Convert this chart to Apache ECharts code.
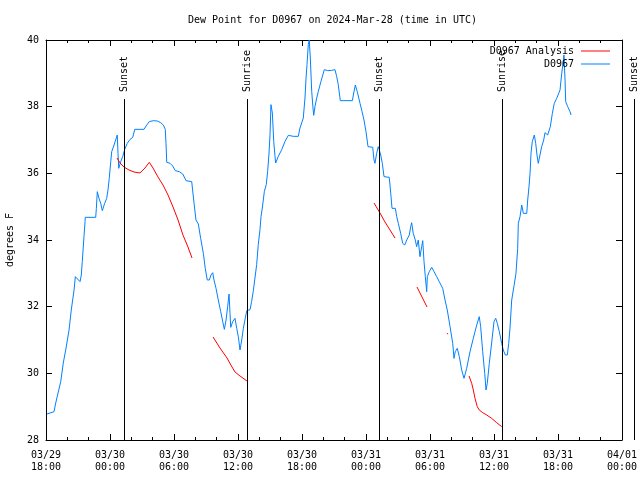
<!DOCTYPE html>
<html>
<head>
<meta charset="utf-8">
<script src="https://cdn.jsdelivr.net/npm/echarts@6/dist/echarts.min.js"></script>
<style>html,body{margin:0;padding:0;background:#fff}#c{width:640px;height:480px}</style>
</head>
<body>
<div id="c"></div>
<script>
// Hours since 2024-03-29 18:00 UTC
var blueHours = [0.09,0.75,0.91,1.13,1.38,1.62,1.88,2.16,2.37,2.63,2.75,3.19,3.31,3.40,3.56,3.66,3.68,4.66,4.72,4.81,4.97,5.13,5.28,5.50,5.69,5.81,5.93,6.07,6.16,6.38,6.53,6.68,6.75,6.82,7.00,7.19,7.38,7.62,7.88,8.13,8.32,8.81,8.93,9.19,9.44,9.68,10.06,10.43,10.75,11.00,11.18,11.25,11.32,11.63,11.88,12.12,12.50,12.82,13.13,13.66,13.75,13.88,14.06,14.28,14.50,14.75,14.93,15.12,15.31,15.47,15.63,15.75,15.94,16.15,16.38,16.57,16.72,16.88,17.03,17.16,17.25,17.32,17.50,17.72,17.88,18.03,18.19,18.35,18.50,18.68,18.82,19.13,19.28,19.43,19.59,19.75,19.90,20.06,20.16,20.28,20.47,20.65,20.78,20.91,21.00,21.09,21.22,21.35,21.47,21.53,21.78,22.10,22.41,22.72,23.18,23.65,23.81,23.97,24.12,24.28,24.38,24.47,24.59,24.68,24.78,24.91,25.03,25.10,25.22,25.38,25.53,25.78,26.09,26.41,26.78,27.09,27.25,27.40,27.59,28.03,28.72,28.85,29.00,29.18,29.44,29.63,29.81,30.00,30.19,30.63,30.75,30.84,31.00,31.15,31.25,31.38,31.53,31.69,32.18,32.32,32.44,32.75,32.88,33.03,33.25,33.44,33.63,33.82,34.06,34.19,34.28,34.43,34.62,34.75,34.90,35.06,35.22,35.32,35.44,35.56,35.69,35.75,35.93,36.16,36.38,36.63,36.87,37.19,37.41,37.62,37.88,38.13,38.25,38.37,38.56,38.75,38.97,39.19,39.44,39.75,40.06,40.38,40.62,40.75,40.94,41.13,41.25,41.37,41.56,41.81,42.00,42.16,42.31,42.50,42.72,42.87,43.06,43.25,43.38,43.50,43.66,43.88,44.06,44.22,44.28,44.44,44.60,44.75,45.07,45.16,45.28,45.38,45.47,45.59,45.78,45.91,46.03,46.15,46.31,46.47,46.66,46.78,47.03,47.18,47.28,47.47,47.65,47.88,48.19,48.35,48.47,48.56,48.66,48.72,48.91,49.13,49.22];
var blueValues = [28.78,28.85,29.11,29.41,29.75,30.31,30.76,31.30,31.90,32.50,32.90,32.75,32.95,33.35,34.10,34.55,34.68,34.68,34.95,35.45,35.25,35.10,34.88,35.10,35.25,35.50,35.85,36.35,36.65,36.85,37.00,37.15,36.60,36.15,36.35,36.50,36.72,36.90,37.02,37.08,37.32,37.32,37.27,37.32,37.45,37.55,37.58,37.57,37.52,37.45,37.32,36.90,36.33,36.30,36.22,36.08,36.05,35.98,35.78,35.75,35.73,35.10,34.60,34.48,34.05,33.60,33.15,32.80,32.80,32.95,33.02,32.80,32.55,32.20,31.85,31.55,31.32,31.60,32.00,32.38,31.80,31.38,31.55,31.65,31.35,31.10,30.70,31.00,31.35,31.65,31.88,31.91,32.16,32.46,32.86,33.26,33.86,34.31,34.71,34.96,35.46,35.66,36.06,36.61,37.16,38.06,37.81,36.96,36.51,36.31,36.51,36.71,36.96,37.14,37.11,37.11,37.36,37.51,37.66,38.26,38.86,39.26,39.86,40.00,39.46,38.46,37.96,37.74,38.01,38.26,38.46,38.76,39.11,39.08,39.09,39.11,38.91,38.66,38.18,38.18,38.18,38.41,38.65,38.45,38.10,37.85,37.60,37.25,36.80,36.78,36.40,36.30,36.60,36.80,36.70,36.55,36.30,35.90,35.88,35.40,34.95,34.95,34.70,34.50,34.20,33.90,33.85,34.00,34.15,34.40,34.52,34.20,34.00,33.80,34.00,33.50,33.80,33.98,33.35,32.90,32.45,32.90,33.05,33.18,33.05,32.90,32.75,32.55,32.20,31.90,31.40,30.90,30.45,30.65,30.75,30.50,30.10,29.85,30.15,30.65,31.05,31.45,31.70,31.40,30.65,30.00,29.50,29.70,30.30,31.00,31.55,31.65,31.50,31.25,30.90,30.70,30.55,30.55,30.90,31.36,32.20,32.63,33.00,33.75,34.50,34.70,35.05,34.80,34.80,35.20,35.60,36.00,36.60,36.95,37.15,36.90,36.55,36.30,36.55,36.80,37.00,37.22,37.15,37.15,37.40,37.80,38.10,38.25,38.50,39.00,39.30,39.55,38.80,38.15,38.00,37.85,37.75];
// null marks a gap in the analysis line
var redHours = [6.66,6.94,7.31,7.78,8.25,8.81,9.28,9.68,10.03,10.50,10.97,11.44,11.91,12.38,12.84,13.31,13.69,null,15.66,16.31,16.97,17.44,17.72,18.19,18.84,null,30.75,31.31,31.78,32.25,32.72,null,34.78,35.25,35.72,null,37.58,37.70,null,39.66,39.91,40.06,40.22,40.43,40.62,40.94,41.32,41.78,42.25,42.72];
var redValues = [36.46,36.31,36.19,36.10,36.04,36.01,36.16,36.33,36.16,35.89,35.65,35.35,34.99,34.60,34.15,33.79,33.46,null,31.09,30.76,30.46,30.19,30.04,29.92,29.77,null,35.11,34.81,34.54,34.30,34.06,null,32.59,32.29,31.99,null,31.20,31.18,null,29.92,29.70,29.50,29.25,29.00,28.90,28.82,28.75,28.65,28.52,28.40];
var sunHours = [7.34, 18.87, 31.25, 42.78, 55.1];
var sunLabels = ['Sunset', 'Sunrise', 'Sunset', 'Sunrise', 'Sunset'];
var yTicks = [28, 30, 32, 34, 36, 38, 40];

var FONT = 'DejaVu Sans Mono';
var baseMs = Date.UTC(2024, 2, 29, 18, 0, 0);
function pad(n){return (n<10?'0':'')+n;}
function fmtHour(h){
  var d = new Date(baseMs + h*3600000);
  return pad(d.getUTCMonth()+1)+'/'+pad(d.getUTCDate())+'\n'+pad(d.getUTCHours())+':'+pad(d.getUTCMinutes());
}
var blueData = blueHours.map(function(h,i){return [h, blueValues[i]];});
var redData = redHours.map(function(h,i){return h===null?['-','-']:[h, redValues[i]];});
var sunData = sunHours.map(function(h,i){return [h, i];});
var sunTop = 38.23;

var chart = echarts.init(document.getElementById('c'), null, {renderer:'canvas'});
var axisCommon = {
  min: 0, max: 54, interval: 6, type: 'value',
  axisLine: {show: true, onZero: false, lineStyle: {color: '#000', width: 1}},
  axisTick: {show: true, inside: true, length: 6, lineStyle: {color: '#000'}},
  minorTick: {show: true, splitNumber: 3, length: 3, lineStyle: {color: '#000'}},
  splitLine: {show: false}
};
var yCommon = {
  type: 'value', min: yTicks[0], max: yTicks[yTicks.length-1], interval: 2,
  axisLine: {show: true, onZero: false, lineStyle: {color: '#000', width: 1}},
  axisTick: {show: true, inside: true, length: 6, lineStyle: {color: '#000'}},
  splitLine: {show: false}
};
chart.setOption({
  animation: false,
  backgroundColor: '#fff',
  textStyle: {fontFamily: FONT},
  title: {
    text: 'Dew Point for D0967 on 2024-Mar-28 (time in UTC)',
    left: 188, top: 15, padding: 0,
    textStyle: {fontFamily: FONT, fontSize: 10, fontWeight: 'normal', color: '#000'}
  },
  legend: [
    {data: [{name: 'D0967 Analysis', icon: 'rect'}], right: 30, top: 46, padding: 0, align: 'right', itemWidth: 29, itemHeight: 1, selectedMode: false,
     textStyle: {fontFamily: FONT, fontSize: 10, color: '#000', padding: [0, 2, 0, 0]}},
    {data: [{name: 'D0967', icon: 'rect'}], right: 30, top: 59, padding: 0, align: 'right', itemWidth: 29, itemHeight: 1, selectedMode: false,
     textStyle: {fontFamily: FONT, fontSize: 10, color: '#000', padding: [0, 2, 0, 0]}}
  ],
  grid: {left: 46, right: 18, top: 40, bottom: 40, containLabel: false, outerBoundsMode: 'none'},
  xAxis: [
    Object.assign({}, axisCommon, {position: 'bottom',
      axisLabel: {show: true, formatter: fmtHour, fontFamily: FONT, fontSize: 10, color: '#000', lineHeight: 12, margin: 9}}),
    Object.assign({}, axisCommon, {position: 'top', axisLabel: {show: false}})
  ],
  yAxis: [
    Object.assign({}, yCommon, {position: 'left', name: 'degrees F', nameLocation: 'middle', nameRotate: 90, nameGap: 31,
      nameTextStyle: {fontFamily: FONT, fontSize: 10, color: '#000'},
      axisLabel: {show: true, fontFamily: FONT, fontSize: 10, color: '#000', margin: 7}}),
    Object.assign({}, yCommon, {position: 'right', axisLabel: {show: false}})
  ],
  series: [
    {
      name: 'D0967 Analysis', type: 'line', data: redData, showSymbol: false, connectNulls: false,
      lineStyle: {color: '#ff0000', width: 1}, itemStyle: {color: '#ff0000'}, z: 3
    },
    {
      name: 'D0967', type: 'line', data: blueData, showSymbol: false,
      lineStyle: {color: '#0080ff', width: 1}, itemStyle: {color: '#0080ff'}, z: 2
    },
    {
      type: 'custom', clip: false, silent: true, z: 4,
      data: sunData,
      renderItem: function(params, api){
        var h = api.value(0);
        var idx = api.value(1);
        var top = api.coord([h, sunTop]);
        var bot = api.coord([h, yTicks[0]]);
        var x = Math.round(top[0]) + 0.5;
        return {
          type: 'group',
          children: [
            {type: 'line', shape: {x1: x, y1: top[1], x2: x, y2: bot[1]}, style: {stroke: '#000', lineWidth: 1}},
            {type: 'text', x: x, y: top[1] - 7, rotation: Math.PI/2,
             style: {text: sunLabels[idx], fill: '#000', font: '10px "' + FONT + '"', align: 'left', verticalAlign: 'middle'}}
          ]
        };
      }
    }
  ]
});
</script>
</body>
</html>
